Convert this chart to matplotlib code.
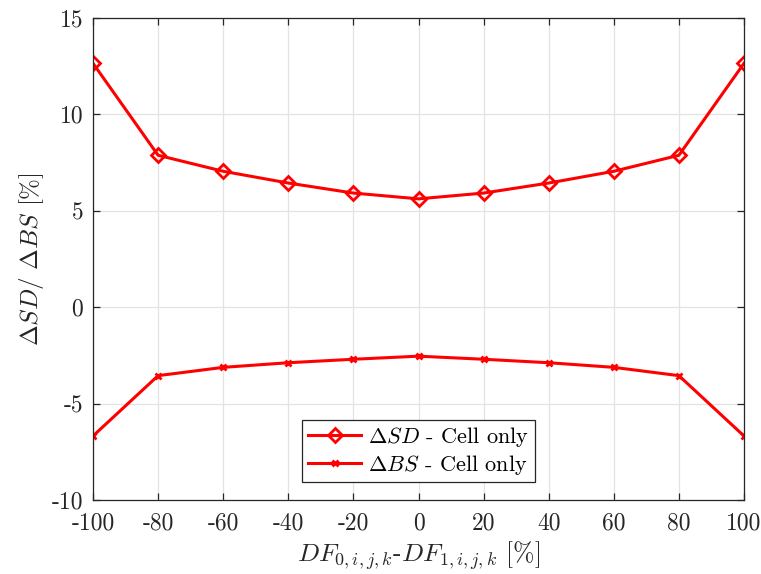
import matplotlib
matplotlib.use("Agg")
import matplotlib.pyplot as plt

plt.rcParams['font.family'] = 'serif'
plt.rcParams['font.serif'] = ['cmr10']
plt.rcParams['mathtext.fontset'] = 'cm'
plt.rcParams['axes.unicode_minus'] = False

df_diff = [-100, -80, -60, -40, -20, 0, 20, 40, 60, 80, 100]
delta_sd = [12.65, 7.88, 7.05, 6.44, 5.92, 5.62, 5.92, 6.44, 7.05, 7.88, 12.65]
delta_bs = [-6.68, -3.55, -3.12, -2.88, -2.70, -2.54, -2.70, -2.88, -3.12, -3.55, -6.68]

xticks = [-100, -80, -60, -40, -20, 0, 20, 40, 60, 80, 100]
yticks = [-10, -5, 0, 5, 10, 15]

fig = plt.figure(figsize=(7.61, 5.74), dpi=100)
ax = fig.add_axes([93 / 761, 74 / 574, 651 / 761, 482 / 574])

ax.plot(df_diff, delta_sd, color='red', lw=2.2, marker='D', ms=7, mew=2,
        mfc='none', mec='red', label=r'$\Delta SD$ - Cell only')
ax.plot(df_diff, delta_bs, color='red', lw=2.2, marker='x', ms=5, mew=2,
        mec='red', label=r'$\Delta BS$ - Cell only')

ax.set_xlim(-100, 100)
ax.set_ylim(-10, 15)
ax.set_xticks(xticks)
ax.set_xticklabels([str(v) for v in xticks])
ax.set_yticks(yticks)
ax.set_yticklabels([str(v) for v in yticks])

ax.grid(True, color='#e3e3e3', lw=0.9)
ax.set_axisbelow(True)
for s in ax.spines.values():
    s.set_color('#262626')
    s.set_linewidth(0.9)
ax.tick_params(direction='in', length=5, width=0.9, colors='#262626',
               labelsize=17, top=True, right=True)
ax.tick_params(axis='x', pad=9)
ax.tick_params(axis='y', pad=7)
for lab in ax.get_xticklabels() + ax.get_yticklabels():
    lab.set_color('#262626')

ax.set_xlabel(r'$DF_{0,i,j,k}$-$DF_{1,i,j,k}$ $[\%]$', fontsize=18.5, color='#262626', labelpad=3)
ax.set_ylabel(r'$\Delta SD/\ \Delta BS$ $[\%]$', fontsize=18, color='#262626', labelpad=4)

leg = ax.legend(loc='lower center', bbox_to_anchor=(0.5, 0.037), fontsize=16,
                frameon=True, fancybox=False, edgecolor='#262626', framealpha=1,
                handlelength=2.4, handletextpad=0.3, borderpad=0.25, labelspacing=0.15,
                borderaxespad=0)
leg.get_frame().set_linewidth(0.9)

fig.savefig('out.png', dpi=100)
